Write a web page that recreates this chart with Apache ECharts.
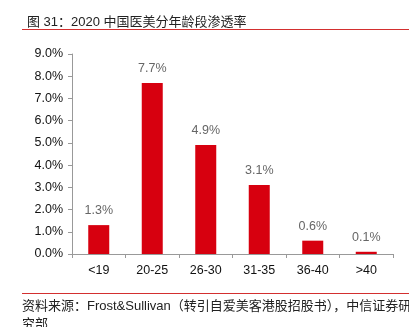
<!DOCTYPE html>
<html><head><meta charset="utf-8">
<script src="https://cdn.jsdelivr.net/npm/echarts@6/dist/echarts.min.js"></script>
<style>html,body{margin:0;padding:0;background:#fff;}#c{width:409px;height:327px;}</style>
</head><body><div id="c"></div>
<script>
const titleText = '图 31：2020 中国医美分年龄段渗透率';
const sourceText = '资料来源：Frost&Sullivan（转引自爱美客港股招股书），中信证券研\n究部';
const categories = ['<19', '20-25', '26-30', '31-35', '36-40', '>40'];
const penetration = [1.3, 7.7, 4.9, 3.1, 0.6, 0.1];

const chart = echarts.init(document.getElementById('c'), null, {renderer: 'canvas'});
const font = '"Liberation Sans", "Noto Sans CJK SC", sans-serif';
chart.setOption({
  animation: false,
  backgroundColor: '#fff',
  title: {
    text: titleText, left: 22, top: 11,
    textStyle: {fontSize: 13, fontWeight: 'normal', color: '#222', fontFamily: font}
  },
  graphic: [
    {type: 'line', shape: {x1: 22, y1: 29.5, x2: 409, y2: 29.5}, style: {stroke: '#d32f2f', lineWidth: 1}},
    {type: 'line', shape: {x1: 22, y1: 293.5, x2: 409, y2: 293.5}, style: {stroke: '#d32f2f', lineWidth: 1}},
    {type: 'text', left: 22, top: 297, style: {text: sourceText, font: '13px ' + font, fill: '#222', lineHeight: 18}}
  ],
  grid: {left: 72, right: 16, top: 54, bottom: 73, containLabel: false},
  xAxis: {
    type: 'category', data: categories,
    axisLine: {lineStyle: {color: '#999'}},
    axisTick: {show: true, length: 4, lineStyle: {color: '#999'}},
    axisLabel: {color: '#111', fontSize: 12.5, fontFamily: font, margin: 10}
  },
  yAxis: {
    type: 'value', min: 0, max: 9, interval: 1,
    splitLine: {show: false},
    axisLine: {show: true, lineStyle: {color: '#999'}},
    axisTick: {show: true, length: 4, inside: false, lineStyle: {color: '#999'}},
    axisLabel: {color: '#111', fontSize: 12.5, fontFamily: font, margin: 9,
      formatter: v => v.toFixed(1) + '%'}
  },
  series: [{
    type: 'bar', data: penetration, barWidth: 21,
    itemStyle: {color: '#d7000f'},
    label: {show: true, position: 'top', distance: 8, color: '#666', fontSize: 12.5, fontFamily: font,
      formatter: p => p.value.toFixed(1) + '%'}
  }]
});
</script></body></html>
